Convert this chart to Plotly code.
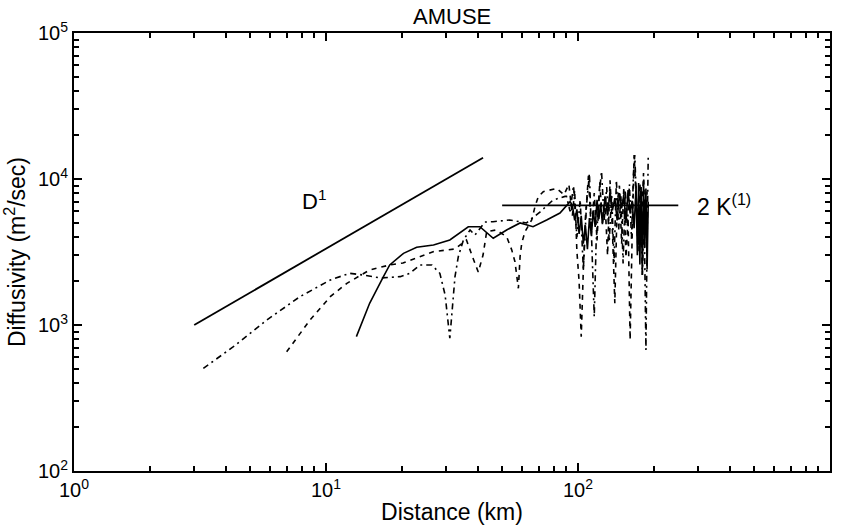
import plotly.graph_objects as go
import math

# Reference slope line D^1 and plateau 2K^(1)
d1_x = [3.0, 42.0]
d1_y = [1000, 14000]
k_x = [50, 250]
k_y = [6600, 6600]

# Solid curve
solid_x = [13.2, 14.9, 16.9, 17.9, 20.3, 22.9, 26.7, 31.0, 36.7, 40.8, 46.1, 52.1, 58.9, 66.3, 75.1, 84.8, 93.0,
           95, 97, 99, 101, 103, 105, 107, 109, 111, 113, 115, 117, 119, 121, 123, 125, 128, 131, 134, 137, 140,
           143, 146, 149, 152, 155, 158, 161, 164, 167, 170, 172, 174, 176, 178, 180, 182, 184, 186, 188, 190]
solid_y = [832, 1409, 2143, 2578, 3097, 3404, 3530, 3820, 4710, 4710, 3925, 4475, 5000, 4710, 5240, 5850, 7000,
           6600, 5200, 6200, 4200, 5600, 3600, 4800, 3300, 5400, 4100, 6100, 4700, 7200, 5300, 6800, 4900, 7600,
           5600, 8200, 6100, 7400, 5200, 8000, 6300, 7800, 5000, 8400, 5800, 7100, 4600, 9000, 3000, 9400, 2600,
           8800, 2200, 9800, 3400, 8600, 2400, 7000]

# Dashed curve
dash_x = [6.98, 8.64, 10.4, 12.1, 14.9, 17.9, 20.2, 23.6, 26.6, 32.5, 36.1, 37.9, 40.2, 42.0, 43.4, 47.3, 52.1,
          54.6, 56.2, 58.0, 58.9, 59.8, 61.6, 65.5, 67.5, 69.6, 72.8, 82.3, 88, 92, 95, 97, 99, 101, 103, 105,
          107, 110, 113, 116, 119, 122, 125, 128, 131, 134, 137, 140, 143, 146, 149, 152, 155, 158, 161, 164,
          167, 170, 173, 176, 179, 182, 185, 188]
dash_y = [656, 1081, 1563, 1930, 2380, 2578, 2660, 2924, 3177, 3319, 3820, 3015, 2306, 3015, 4355, 4475, 4025,
          3265, 2716, 1783, 2938, 3630, 4355, 5240, 6460, 7570, 8190, 8630, 7800, 9200, 5600, 8400, 3200, 2000,
          830, 2400, 5400, 10500, 4200, 8000, 3800, 9600, 5000, 7000, 3000, 9800, 4400, 1409, 6800, 9000, 3600,
          8800, 2900, 5400, 790, 4000, 14600, 7600, 3200, 9400, 5200, 11000, 4000, 8200]

# Dash-dot curve
dd_x = [3.26, 4.29, 5.82, 7.88, 10.4, 12.4, 14.0, 16.4, 19.7, 21.5, 23.6, 26.3, 28.3, 29.7, 31.0, 32.5, 33.5,
        35.1, 37.3, 39.0, 42.7, 46.0, 53.5, 62.5, 70.6, 79.6, 88.8, 90, 93, 96, 99, 102, 105, 108, 111, 114,
        116, 118, 121, 124, 127, 130, 133, 136, 139, 142, 145, 148, 151, 154, 157, 160, 163, 166, 168, 171,
        174, 177, 180, 183, 186, 188, 190]
dd_y = [505, 710, 1081, 1563, 2033, 2260, 2200, 2100, 2143, 2260, 2578, 2578, 2260, 1604, 811, 2143, 2938,
        3820, 4475, 4130, 5070, 5100, 5240, 5000, 5940, 7180, 7600, 7600, 6000, 9000, 4000, 7200, 2400, 6500,
        10900, 3000, 1140, 3600, 7400, 11300, 5200, 8800, 3700, 7900, 2700, 9840, 4500, 7600, 2643, 8400,
        4800, 9200, 3900, 11000, 14600, 6400, 3500, 8800, 2200, 6000, 675, 3800, 14600]

x_tickvals = [1, 10, 100, 1000]
x_ticktext = ["10<sup>0</sup>", "10<sup>1</sup>", "10<sup>2</sup>", "10<sup>3</sup>"]
y_tickvals = [100, 1000, 10000, 100000]
y_ticktext = ["10<sup>2</sup>", "10<sup>3</sup>", "10<sup>4</sup>", "10<sup>5</sup>"]

fig = go.Figure()
line_w = 1.6
fig.add_trace(go.Scatter(x=d1_x, y=d1_y, mode="lines", line=dict(color="black", width=1.8)))
fig.add_trace(go.Scatter(x=k_x, y=k_y, mode="lines", line=dict(color="black", width=1.8)))
fig.add_trace(go.Scatter(x=solid_x, y=solid_y, mode="lines", line=dict(color="black", width=line_w)))
fig.add_trace(go.Scatter(x=dash_x, y=dash_y, mode="lines",
                         line=dict(color="black", width=line_w, dash="5px,5px")))
fig.add_trace(go.Scatter(x=dd_x, y=dd_y, mode="lines",
                         line=dict(color="black", width=line_w, dash="6px,4px,2px,4px")))

font = "Liberation Sans, Arial, sans-serif"
axis_common = dict(
    type="log", showgrid=False, zeroline=False, showline=True, linecolor="black", linewidth=2,
    mirror="allticks", ticks="inside", ticklen=8, tickwidth=1.5, tickcolor="black",
    minor=dict(ticks="inside", ticklen=5, tickwidth=1.5, tickcolor="black", dtick="D1", showgrid=False),
    tickfont=dict(family=font, size=20, color="black"),
)
fig.update_xaxes(range=[0, 3], tickmode="array", tickvals=x_tickvals, ticktext=x_ticktext,
                 title=dict(text="Distance (km)", font=dict(family=font, size=23, color="black"), standoff=4),
                 **axis_common)
fig.update_yaxes(range=[2, 5], tickmode="array", tickvals=y_tickvals, ticktext=y_ticktext,
                 title=dict(text="Diffusivity (m<sup>2</sup>/sec)", font=dict(family=font, size=23, color="black"), standoff=6),
                 **axis_common)

fig.add_annotation(x=math.log10(9.0), y=math.log10(7200), xref="x", yref="y", text="D<sup>1</sup>",
                   showarrow=False, font=dict(family=font, size=22, color="black"))
fig.add_annotation(x=math.log10(290), y=math.log10(6600), xref="x", yref="y", text="2 K<sup>(1)</sup>",
                   showarrow=False, xanchor="left", font=dict(family=font, size=23, color="black"))
fig.add_annotation(x=0.5, y=1, xref="paper", yref="paper", text="AMUSE", showarrow=False,
                   xanchor="center", yanchor="bottom", yshift=2, font=dict(family=font, size=22, color="black"))

fig.update_layout(
    width=844, height=532,
    margin=dict(l=74, r=14, t=33, b=61),
    paper_bgcolor="white", plot_bgcolor="white",
    showlegend=False,
)

fig.write_html("out.html")
